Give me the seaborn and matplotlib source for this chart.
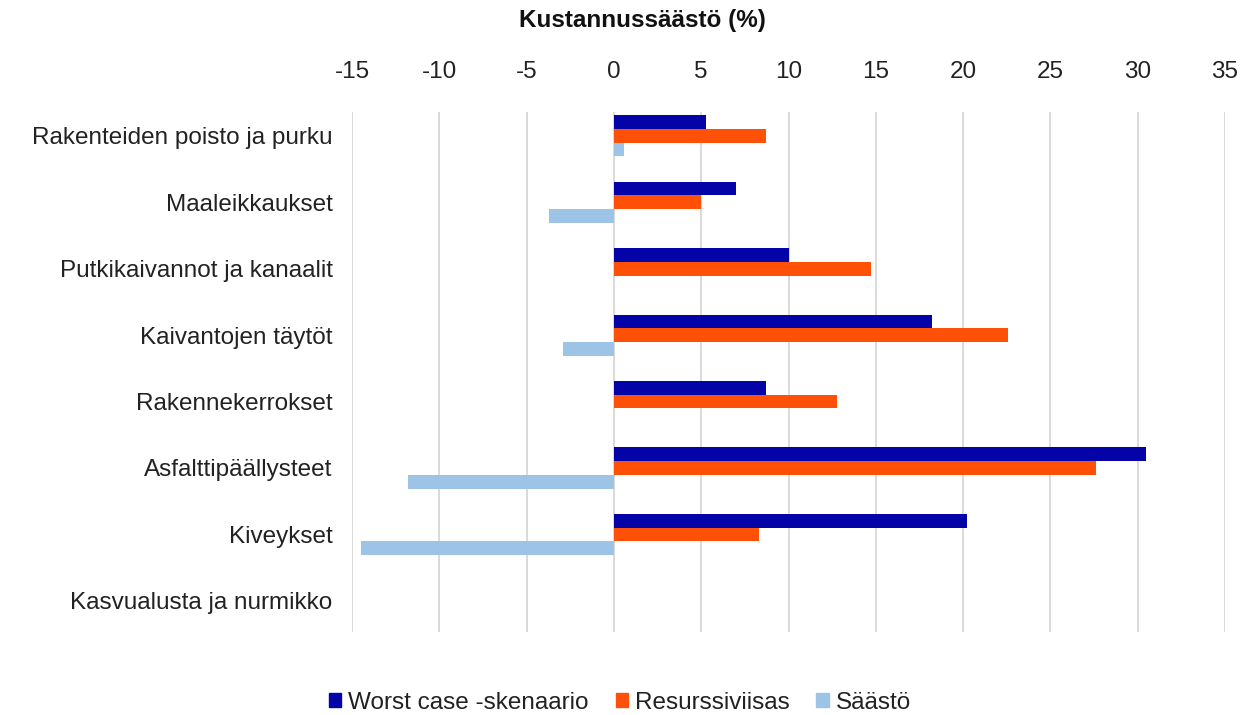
import matplotlib.pyplot as plt
import seaborn as sns
import pandas as pd

categories = ['Rakenteiden poisto ja purku', 'Maaleikkaukset', 'Putkikaivannot ja kanaalit',
              'Kaivantojen täytöt', 'Rakennekerrokset', 'Asfalttipäällysteet', 'Kiveykset',
              'Kasvualusta ja nurmikko']
series_names = ['Worst case -skenaario', 'Resurssiviisas', 'Säästö']
worst_case = [5.3, 7.0, 10.0, 18.2, 8.7, 30.5, 20.2, 0.0]
resurssiviisas = [8.7, 5.0, 14.7, 22.6, 12.8, 27.6, 8.3, 0.0]
saasto = [0.6, -3.7, 0.0, -2.9, 0.0, -11.8, -14.5, 0.0]
x_ticks = [-15, -10, -5, 0, 5, 10, 15, 20, 25, 30, 35]


def main():
    df = pd.DataFrame({
        'kategoria': categories * 3,
        'sarja': [series_names[0]] * 8 + [series_names[1]] * 8 + [series_names[2]] * 8,
        'arvo': worst_case + resurssiviisas + saasto,
    })

    sns.set_style('white')
    plt.rcParams['font.family'] = ['Liberation Sans', 'DejaVu Sans']

    fig = plt.figure(figsize=(12.51, 7.15), dpi=100)
    ax = fig.add_axes([352 / 1251, 1 - 632 / 715, 873 / 1251, 520 / 715])

    colors = ['#0303A8', '#FF5008', '#9DC3E6']
    sns.barplot(data=df, y='kategoria', x='arvo', hue='sarja', hue_order=series_names,
                order=categories, palette=colors, orient='h', width=0.62,
                saturation=1, linewidth=0, ax=ax, legend=False)

    ax.set_xlim(-15, 35)
    ax.set_ylim(7.47, -0.36)
    ax.set_xticks(x_ticks)
    ax.set_xticklabels([str(t) for t in x_ticks])
    ax.xaxis.tick_top()
    ax.tick_params(axis='x', length=0, labelsize=17.5, labelcolor='#222222', pad=21)
    ax.tick_params(axis='y', length=0, labelsize=17.5, labelcolor='#222222', pad=14)
    ax.set_xlabel('')
    ax.set_ylabel('')
    ax.grid(axis='x', color='#D9D9D9', linewidth=1.4)
    ax.set_axisbelow(True)
    for s in ax.spines.values():
        s.set_visible(False)

    fig.text(642 / 1251, 1 - 21 / 715, 'Kustannussäästö (%)', ha='center', va='center',
             fontsize=17.5, fontweight='bold', color='#111111')

    handles = [plt.Rectangle((0, 0), 1, 1, color=c) for c in colors]
    fig.legend(handles, series_names, loc='center', bbox_to_anchor=(620 / 1251, 1 - 703 / 715),
               ncol=3, frameon=False, fontsize=17.5, handlelength=0.5, handleheight=0.5,
               handletextpad=0.3, columnspacing=1.1, labelcolor='#222222')

    plt.savefig('out.png', dpi=100)
    plt.close()


if __name__ == '__main__':
    main()
